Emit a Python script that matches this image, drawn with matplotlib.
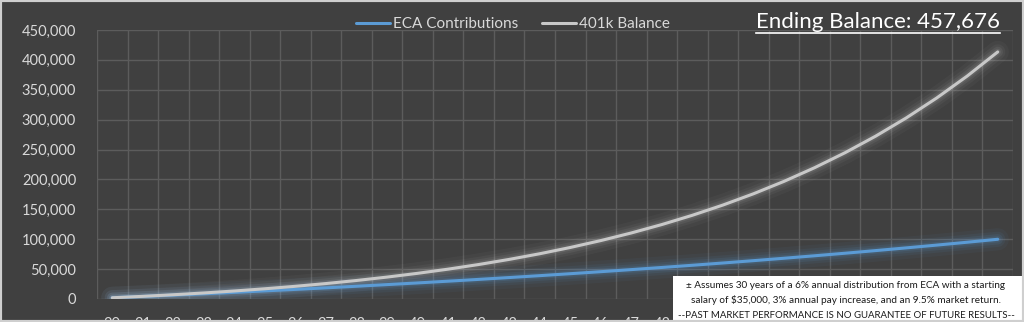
import numpy as np
import matplotlib.pyplot as plt
from matplotlib.patches import Rectangle
from matplotlib.lines import Line2D
from matplotlib.ticker import FuncFormatter

plt.rcParams['font.family'] = ['Lato', 'DejaVu Sans']

ages = list(range(30, 60))
eca = [2100, 4260, 6490, 8790, 11150, 13580, 16090, 18670, 21340, 24080,
       26900, 29800, 32800, 35880, 39060, 42330, 45700, 49170, 52750, 56430,
       60220, 64130, 68160, 72300, 76570, 80970, 85500, 90160, 94970, 99910]
balance = [2100, 4460, 7120, 10090, 13410, 17120, 21250, 25850, 30970, 36650,
           42950, 49940, 57680, 66240, 75710, 86180, 97740, 110490, 124560, 140080,
           157180, 176020, 196770, 219600, 244740, 272380, 302790, 336220, 372960, 413350]
ending = "Ending Balance: 457,676"
note = ["\u00b1 Assumes 30 years of a 6% annual distribution from ECA with a starting",
        "salary of $35,000, 3% annual pay increase, and an 9.5% market return.",
        "--PAST MARKET PERFORMANCE IS NO GUARANTEE OF FUTURE RESULTS--"]

bg = "#404040"
fig = plt.figure(figsize=(10.24, 3.22), dpi=100, facecolor=bg)
ax = fig.add_axes([97/1024, 23/322, 916/1024, 269/322], facecolor=bg)

x = np.arange(len(ages))

# soft glow under each line
for w, a in [(16, 0.05), (11, 0.07), (7.5, 0.10), (4.5, 0.14)]:
    ax.plot(x, eca, color="#5b9bd5", lw=w, alpha=a, solid_capstyle="round")
    ax.plot(x, balance, color="#e0e0e0", lw=w, alpha=a * 0.7, solid_capstyle="round")
ax.plot(x, eca, color="#5b9bd5", lw=2.2, label="ECA Contributions", solid_capstyle="round")
ax.plot(x, balance, color="#c8c8c8", lw=2.2, label="401k Balance", solid_capstyle="round")

ax.set_xlim(-0.5, len(ages) - 0.5)
ax.set_ylim(0, 450000)
ax.set_yticks(np.arange(0, 450001, 50000))
ax.yaxis.set_major_formatter(FuncFormatter(lambda v, p: f"{int(v):,}"))
ax.set_xticks(x)
ax.set_xticklabels([str(a) for a in ages])
ax.set_xticks(np.arange(-0.5, len(ages)), minor=True)
ax.grid(True, axis="y", which="major", color="#5c5c5c", lw=1)
ax.grid(True, axis="x", which="minor", color="#5c5c5c", lw=1)
ax.tick_params(axis="both", which="both", length=0, colors="#d9d9d9", labelsize=10.5)
ax.tick_params(axis="y", pad=15)
ax.tick_params(axis="x", pad=13)
for s in ax.spines.values():
    s.set_visible(False)

ax.legend(loc="center", bbox_to_anchor=(0.501, 0.925), bbox_transform=fig.transFigure,
          ncol=2, frameon=False, fontsize=11, labelcolor="#d9d9d9",
          handlelength=2.2, handletextpad=0.2, columnspacing=1.6)

t = fig.text(0.977, 0.932, ending, ha="right", va="center", fontsize=16, color="white")
fig.canvas.draw()
bb = t.get_window_extent().transformed(fig.transFigure.inverted())
fig.add_artist(Line2D([bb.x0, bb.x1], [bb.y0 - 0.004, bb.y0 - 0.004],
                      transform=fig.transFigure, color="white", lw=1.2))

# note box in the lower right corner, it hides the later age labels
box_left = 673 / 1024
fig.add_artist(Rectangle((box_left, 0), 1 - box_left, 46/322,
                         transform=fig.transFigure, facecolor="white", edgecolor="none", zorder=5))
for lab in ax.get_xticklabels():
    e = lab.get_window_extent().transformed(fig.transFigure.inverted())
    if e.x0 > box_left:
        lab.set_visible(False)
for i, line in enumerate(note):
    fig.text(846/1024, (322 - 285 - 15 * i)/322, line, ha="center", va="center",
             fontsize=7.2 if i < 2 else 6.9, color="#1a1a1a", zorder=6)

# light frame round the figure
fig.add_artist(Rectangle((0, 0), 1, 1, transform=fig.transFigure, fill=False,
                         edgecolor="#cfcfcf", lw=3, zorder=10))

fig.savefig("out.png", dpi=100, facecolor=bg)
